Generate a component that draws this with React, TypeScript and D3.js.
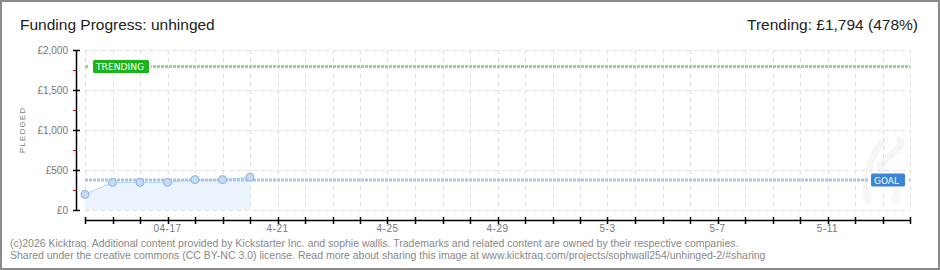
import React, { useEffect } from 'react';
import * as d3 from 'd3';

// data
const dayDates = ['2026-04-14', '2026-04-15', '2026-04-16', '2026-04-17', '2026-04-18', '2026-04-19', '2026-04-20'];
const pledged = [195, 345, 345, 345, 380, 380, 410];
const goalValue = 375;
const trendingValue = 1794;
const yTickValues = [0, 500, 1000, 1500, 2000];
const yMinorValues = [250, 750, 1250, 1750];
const xLabelDates = ['2026-04-17', '2026-04-21', '2026-04-25', '2026-04-29', '2026-05-03', '2026-05-07', '2026-05-11'];
const xLabelTexts = ['04-17', '4-21', '4-25', '4-29', '5-3', '5-7', '5-11'];
const rangeStart = '2026-04-14';
const rangeEnd = '2026-05-14';

const W = 940;
const H = 270;
const parse = d3.timeParse('%Y-%m-%d');
const fmtMoney = (v: number) => '£' + d3.format(',')(v);

const App = () => {
  useEffect(() => {
    document.body.style.margin = '0';
  }, []);

  const x = d3.scaleTime().domain([parse(rangeStart)!, parse(rangeEnd)!]).range([85, 910]);
  const y = d3.scaleLinear().domain([0, 2000]).range([210, 50]);

  const days = d3.timeDay.range(parse(rangeStart)!, d3.timeDay.offset(parse(rangeEnd)!, 1));
  const points = dayDates.map((d, i) => ({ date: parse(d)!, value: pledged[i] }));

  const line = d3.line<{ date: Date; value: number }>().x((d) => x(d.date)).y((d) => y(d.value));
  const area = d3
    .area<{ date: Date; value: number }>()
    .x((d) => x(d.date))
    .y0(y(0))
    .y1((d) => y(d.value));

  const [x0, x1] = x.range();
  const labelFont = "'Liberation Sans', Arial, sans-serif";
  const tagFont = "'DejaVu Sans', sans-serif";

  return (
    <svg width={W} height={H} style={{ display: 'block', background: '#fff' }} fontFamily={labelFont}>
      <rect x={1} y={1} width={W - 2} height={H - 2} fill="#fff" stroke="#8a8a8a" strokeWidth={2} />

      {/* title */}
      <text x={20} y={30} fontSize={15.5} fill="#222">Funding Progress: unhinged</text>
      <text x={918} y={30} fontSize={15.5} fill="#222" textAnchor="end">
        Trending: {fmtMoney(trendingValue)} ({Math.round((trendingValue / goalValue) * 100)}%)
      </text>

      {/* faint watermark */}
      <path
        d="M868,200 C862,185 872,150 885,140 M880,165 C895,150 905,145 900,140 M880,168 C895,175 900,190 895,200"
        fill="none"
        stroke="#f6f6f6"
        strokeWidth={7}
        strokeLinecap="round"
      />

      {/* grid */}
      <g stroke="#e0e0e0" strokeWidth={1} strokeDasharray="4 4">
        {days.map((d, i) => (
          <line key={'v' + i} x1={Math.round(x(d)) + 0.5} x2={Math.round(x(d)) + 0.5} y1={50} y2={210} />
        ))}
        {yTickValues.map((v) => (
          <line key={'h' + v} x1={x0} x2={x1} y1={y(v) + 0.5} y2={y(v) + 0.5} />
        ))}
      </g>

      {/* area + line */}
      <path d={area(points) || ''} fill="#ebf3fc" />
      <path d={line(points) || ''} fill="none" stroke="#b5d1f0" strokeWidth={1} />

      {/* goal line */}
      <line x1={x0} x2={x1} y1={y(goalValue)} y2={y(goalValue)} stroke="#a6c6ec" strokeWidth={3} strokeDasharray="3 1" />
      {/* trending line */}
      <line x1={x0} x2={x1} y1={y(trendingValue)} y2={y(trendingValue)} stroke="#8edb8e" strokeWidth={3} strokeDasharray="3 1" />

      {points.map((p, i) => (
        <circle key={i} cx={x(p.date)} cy={y(p.value)} r={4} fill="#c3dbf5" stroke="#8eb0da" strokeWidth={1} />
      ))}

      {/* tags on lines */}
      <rect x={89} y={y(trendingValue) - 8} width={62} height={16} fill="#fff" />
      <rect x={93} y={y(trendingValue) - 6.5} width={56} height={13} fill="#1bb51b" rx={1.5} />
      <text x={96} y={y(trendingValue) + 3.5} fontSize={9} fill="#fff" fontFamily={tagFont} textLength={48} lengthAdjust="spacingAndGlyphs">
        TRENDING
      </text>
      <rect x={868} y={y(goalValue) - 8} width={40} height={16} fill="#fff" />
      <rect x={871} y={y(goalValue) - 6.5} width={34} height={13} fill="#3a85d8" rx={1.5} />
      <text x={874} y={y(goalValue) + 3.5} fontSize={9} fill="#fff" fontFamily={tagFont} textLength={25} lengthAdjust="spacingAndGlyphs">
        GOAL
      </text>

      {/* y axis */}
      <line x1={76.5} x2={76.5} y1={50} y2={210.5} stroke="#000" strokeWidth={1.5} />
      {yTickValues.map((v) => (
        <g key={'yt' + v}>
          <line x1={73} x2={80} y1={y(v) + 0.5} y2={y(v) + 0.5} stroke="#000" strokeWidth={1.5} />
          <text x={68} y={y(v) + 3.5} fontSize={10} fill="#777" textAnchor="end">{fmtMoney(v)}</text>
        </g>
      ))}
      {yMinorValues.map((v) => (
        <line key={'ym' + v} x1={73} x2={76} y1={y(v) + 0.5} y2={y(v) + 0.5} stroke="#e00" strokeWidth={1} />
      ))}
      <text transform="translate(25,130) rotate(-90)" fontSize={8} fill="#777" textAnchor="middle" letterSpacing={1.2}>
        PLEDGED
      </text>

      {/* x axis */}
      <line x1={x0} x2={x1} y1={220.5} y2={220.5} stroke="#000" strokeWidth={1.5} />
      {days.map((d, i) => (
        <line key={'xt' + i} x1={Math.round(x(d)) + 0.5} x2={Math.round(x(d)) + 0.5} y1={217} y2={224} stroke="#000" strokeWidth={1.5} />
      ))}
      {xLabelDates.map((d, i) => (
        <text key={'xl' + i} x={x(parse(d)!)} y={232} fontSize={10} fill="#777" textAnchor="middle" letterSpacing={0.5}>
          {xLabelTexts[i]}
        </text>
      ))}

      {/* footer */}
      <text x={10} y={247} fontSize={10.5} fill="#888">
        (c)2026 Kicktraq. Additional content provided by Kickstarter Inc. and sophie wallis. Trademarks and related content are owned by their respective companies.
      </text>
      <text x={10} y={259} fontSize={10.5} fill="#888">
        Shared under the creative commons (CC BY-NC 3.0) license. Read more about sharing this image at www.kicktraq.com/projects/sophwall254/unhinged-2/#sharing
      </text>
    </svg>
  );
};

export default App;
